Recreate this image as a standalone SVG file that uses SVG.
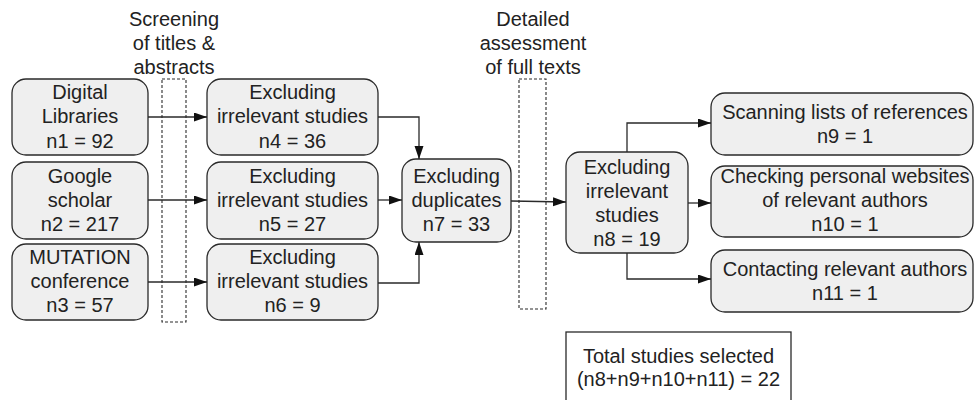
<svg xmlns="http://www.w3.org/2000/svg" width="975" height="400" viewBox="0 0 975 400">
<defs>
<style>
.box{fill:#efefef;stroke:#2a2a2a;stroke-width:1.3}
.tbox{fill:#ffffff;stroke:#2a2a2a;stroke-width:1.3}
.dash{fill:none;stroke:#2a2a2a;stroke-width:1.1;stroke-dasharray:3,2}
text{font-family:"Liberation Sans",Arial,sans-serif;font-size:20px;fill:#222;text-anchor:middle}
.conn{fill:none;stroke:#2a2a2a;stroke-width:1.3;marker-end:url(#ah)}
</style>
<marker id="ah" markerUnits="userSpaceOnUse" markerWidth="14" markerHeight="10" refX="13" refY="4.5" orient="auto">
<path d="M0,0 L13,4.5 L0,9 z" fill="#111"/>
</marker>
</defs>
<rect width="975" height="400" fill="#ffffff"/>

<g id="label-screening">
<text x="174" y="26">Screening</text>
<text x="174" y="50">of titles &amp;</text>
<text x="174" y="74">abstracts</text>
<rect class="dash" x="162" y="79" width="24" height="243"/>
</g>
<g id="label-detailed">
<text x="533" y="26">Detailed</text>
<text x="533" y="50">assessment</text>
<text x="533" y="74">of full texts</text>
<rect class="dash" x="519" y="79" width="27" height="230"/>
</g>

<g id="n1">
<rect class="box" x="12" y="79" width="136" height="76" rx="14"/>
<text x="80" y="99">Digital</text>
<text x="80" y="123">Libraries</text>
<text x="80" y="148">n1 = 92</text>
</g>
<g id="n2">
<rect class="box" x="12" y="162" width="136" height="77" rx="14"/>
<text x="80" y="183">Google</text>
<text x="80" y="207">scholar</text>
<text x="80" y="231">n2 = 217</text>
</g>
<g id="n3">
<rect class="box" x="12" y="244" width="136" height="76" rx="14"/>
<text x="80" y="264">MUTATION</text>
<text x="80" y="288">conference</text>
<text x="80" y="312">n3 = 57</text>
</g>

<g id="n4">
<rect class="box" x="207" y="79" width="171" height="76" rx="14"/>
<text x="292.5" y="99">Excluding</text>
<text x="292.5" y="123">irrelevant studies</text>
<text x="292.5" y="148">n4 = 36</text>
</g>
<g id="n5">
<rect class="box" x="207" y="162" width="171" height="77" rx="14"/>
<text x="292.5" y="183">Excluding</text>
<text x="292.5" y="207">irrelevant studies</text>
<text x="292.5" y="231">n5 = 27</text>
</g>
<g id="n6">
<rect class="box" x="207" y="244" width="171" height="76" rx="14"/>
<text x="292.5" y="264">Excluding</text>
<text x="292.5" y="288">irrelevant studies</text>
<text x="292.5" y="312">n6 = 9</text>
</g>

<g id="n7">
<rect class="box" x="402" y="159" width="109" height="83" rx="14"/>
<text x="456.5" y="183">Excluding</text>
<text x="456.5" y="207">duplicates</text>
<text x="456.5" y="231">n7 = 33</text>
</g>

<g id="n8">
<rect class="box" x="566" y="152" width="122" height="101" rx="14"/>
<text x="627" y="174">Excluding</text>
<text x="627" y="198">irrelevant</text>
<text x="627" y="222">studies</text>
<text x="627" y="246">n8 = 19</text>
</g>

<g id="n9">
<rect class="box" x="711" y="93" width="262" height="62" rx="14"/>
<text x="845" y="119">Scanning lists of references</text>
<text x="845" y="143">n9 = 1</text>
</g>
<g id="n10">
<rect class="box" x="711" y="166" width="262" height="71" rx="14"/>
<text x="845" y="183">Checking personal websites</text>
<text x="845" y="207">of relevant authors</text>
<text x="845" y="231">n10 = 1</text>
</g>
<g id="n11">
<rect class="box" x="711" y="250" width="262" height="62" rx="14"/>
<text x="845" y="276">Contacting relevant authors</text>
<text x="845" y="300">n11 = 1</text>
</g>

<g id="total">
<rect class="tbox" x="566" y="332" width="225" height="80"/>
<text x="678.5" y="363">Total studies selected</text>
<text x="678.5" y="386">(n8+n9+n10+n11) = 22</text>
</g>

<g id="connectors">
<path class="conn" d="M148,117 H207"/>
<path class="conn" d="M148,200 H207"/>
<path class="conn" d="M148,282 H207"/>
<path class="conn" d="M378,117 H419 V159"/>
<path class="conn" d="M378,200 H402"/>
<path class="conn" d="M378,283 H419 V242"/>
<path class="conn" d="M511,201 L566,202"/>
<path class="conn" d="M627,152 V123 H711"/>
<path class="conn" d="M688,203 H711"/>
<path class="conn" d="M627,253 V279 H711"/>
</g>
</svg>
